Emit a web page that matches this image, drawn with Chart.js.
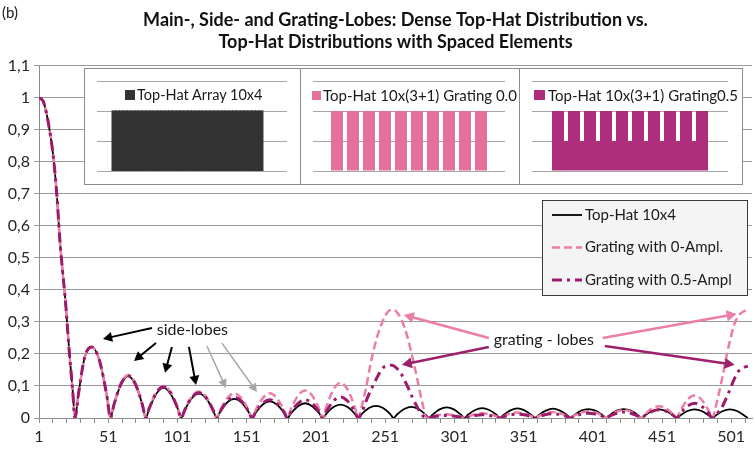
<!DOCTYPE html>
<html>
<head>
<meta charset="utf-8">
<script src="https://cdn.jsdelivr.net/npm/chart.js@4.4.1/dist/chart.umd.min.js"></script>
<style>
html,body{margin:0;padding:0;background:#fff;}
#wrap{position:relative;width:755px;height:449px;overflow:hidden;font-family:Lato,"Liberation Sans",sans-serif;color:#1a1a1a;}
#main{position:absolute;left:0;top:0;}
.inset{position:absolute;background:#fff;border:1px solid #8c8c8c;box-sizing:border-box;}
.inset canvas{position:absolute;left:0;top:0;}
.ilg{position:absolute;font-size:15px;line-height:18px;white-space:nowrap;color:#1a1a1a;}
.sw{position:absolute;}
#tag{position:absolute;left:2px;top:3px;font-size:15px;}
</style>
</head>
<body>
<div id="wrap">
  <canvas id="main" width="755" height="449"></canvas>
  <div id="tag">(b)</div>
  <div class="inset" style="left:84px;top:68px;width:217px;height:117px;"><canvas id="in1" width="215" height="115"></canvas></div>
  <div class="inset" style="left:300px;top:68px;width:220px;height:117px;"><canvas id="in2" width="218" height="115"></canvas></div>
  <div class="inset" style="left:519px;top:68px;width:224px;height:117px;"><canvas id="in3" width="222" height="115"></canvas></div>
  <div class="sw" style="left:125px;top:90px;width:10px;height:10px;background:#333333;"></div>
  <div class="ilg" style="left:137px;top:86px;font-size:14.5px;">Top-Hat Array 10x4</div>
  <div class="sw" style="left:312px;top:91px;width:9px;height:9px;background:#E4709C;"></div>
  <div class="ilg" style="left:323px;top:86px;">Top-Hat 10x(3+1) Grating 0.0</div>
  <div class="sw" style="left:534px;top:90px;width:11px;height:10px;background:#AE2E7C;"></div>
  <div class="ilg" style="left:548px;top:86px;">Top-Hat 10x(3+1) Grating0.5</div>
</div>
<script>
// ---------------- DATA ----------------
const titleLines = ['Main-, Side- and Grating-Lobes: Dense Top-Hat Distribution vs.', 'Top-Hat Distributions with Spaced Elements'];
const seriesNames = ['Top-Hat 10x4', 'Grating with 0-Ampl.', 'Grating with 0.5-Ampl'];

const xTickLabels = [1, 51, 101, 151, 201, 251, 301, 351, 401, 451, 501];
const yTickValues = [0, 0.1, 0.2, 0.3, 0.4, 0.5, 0.6, 0.7, 0.8, 0.9, 1, 1.1];
const yTickLabels = ['0', '0,1', '0,2', '0,3', '0,4', '0,5', '0,6', '0,7', '0,8', '0,9', '1', '1,1'];

const topHatX = [
  1,4,6.5,9,11.5,14,16,18,20,23,25.3,27.0,
  29.5,34.0,39.0,44.5,50.1,52.6,
  55.1,60.3,65.4,70.5,75.7,78.1,
  80.6,85.8,90.9,96.0,101.2,103.7,
  106.2,111.4,116.5,121.6,126.8,129.3,
  131.8,137.0,142.1,147.2,152.4,154.9,
  157.4,162.6,167.7,172.8,178.0,180.4,
  182.9,188.1,193.2,198.3,203.5,206.0,
  208.5,213.7,218.8,223.9,229.1,231.6,
  234.1,239.3,244.4,249.5,254.7,257.1,
  259.6,264.8,269.9,275.0,280.2,282.7,
  285.2,290.4,295.5,300.6,305.8,308.3,
  310.8,316.0,321.1,326.2,331.4,333.8,
  336.3,341.5,346.6,351.7,356.9,359.4,
  361.9,367.1,372.2,377.3,382.5,385.0,
  387.5,392.7,397.8,402.9,408.1,410.6,
  413.1,418.3,423.4,428.5,433.7,436.1,
  438.6,443.8,448.9,454.0,459.2,461.7,
  464.2,469.4,474.5,479.6,484.8,487.3,
  489.8,495.0,500.1,505.2,510.4,513.0
];
const topHatY = [
  1,0.99,0.95,0.89,0.81,0.69,0.56,0.46,0.37,0.2,0.087,0,
  0.075,0.19,0.222,0.182,0.067,0,
  0.041,0.106,0.131,0.106,0.041,0,
  0.029,0.076,0.094,0.076,0.029,0,
  0.024,0.062,0.076,0.062,0.024,0,
  0.019,0.049,0.060,0.049,0.019,0,
  0.016,0.042,0.052,0.042,0.016,0,
  0.014,0.037,0.046,0.037,0.014,0,
  0.013,0.034,0.042,0.034,0.013,0,
  0.012,0.031,0.038,0.031,0.012,0,
  0.011,0.028,0.035,0.028,0.011,0,
  0.010,0.027,0.033,0.027,0.010,0,
  0.010,0.025,0.031,0.025,0.010,0,
  0.009,0.024,0.030,0.024,0.009,0,
  0.009,0.023,0.029,0.023,0.009,0,
  0.009,0.023,0.028,0.023,0.009,0,
  0.009,0.023,0.028,0.023,0.009,0,
  0.008,0.022,0.027,0.022,0.008,0,
  0.008,0.022,0.027,0.022,0.008,0,
  0.008,0.022,0.027,0.022,0.008,0
];

const gratingX = [
  1,4,6.5,9,11.5,14,16,18,20,23,25.3,27.0,
  29.5,34.0,39.0,44.5,50.1,52.6,
  55.1,60.3,65.4,70.5,75.7,78.1,
  80.6,85.8,90.9,96.0,101.2,103.7,
  106.2,111.4,116.5,121.6,126.8,129.3,
  131.8,137.0,142.1,147.2,152.4,154.9,
  157.4,162.6,167.7,172.8,178.0,180.4,
  182.9,188.1,193.2,198.3,203.5,206.0,
  208.5,213.7,218.8,223.9,229.1,231.6,
  234,237,241,245,249,253,256,259,263,267,271,275,278,281,
  283.5,289,295,300.5,306,308.3,
  310.8,316.0,321.1,326.2,331.4,333.8,
  336.3,341.5,346.6,351.7,356.9,359.4,
  361.9,367.1,372.2,377.3,382.5,385.0,
  387.5,392.7,397.8,402.9,408.1,410.6,
  413.1,418.3,423.4,428.5,433.7,436.1,
  438.6,443.8,448.9,454.0,459.2,461.7,
  464.2,469.4,474.5,479.6,484.8,487.3,
  489.5,492,494.5,497,500,503,506,509.5,513
];
const grating0Y = [
  1,0.99,0.95,0.89,0.81,0.69,0.56,0.46,0.37,0.2,0.087,0,
  0.075,0.19,0.222,0.182,0.067,0,
  0.042,0.109,0.134,0.109,0.042,0,
  0.031,0.081,0.100,0.081,0.031,0,
  0.026,0.067,0.083,0.067,0.026,0,
  0.024,0.062,0.077,0.062,0.024,0,
  0.024,0.062,0.077,0.062,0.024,0,
  0.027,0.070,0.086,0.070,0.027,0,
  0.034,0.089,0.110,0.089,0.034,0,
  0.035,0.09,0.18,0.25,0.30,0.332,0.338,0.333,0.305,0.255,0.185,0.105,0.045,0,
  0.004,0.009,0.012,0.009,0.004,0,
  0.005,0.012,0.015,0.012,0.005,0,
  0.005,0.014,0.017,0.014,0.005,0,
  0.006,0.015,0.019,0.015,0.006,0,
  0.007,0.017,0.021,0.017,0.007,0,
  0.008,0.020,0.025,0.020,0.008,0,
  0.011,0.030,0.037,0.030,0.011,0,
  0.022,0.057,0.070,0.057,0.022,0,
  0.03,0.075,0.125,0.18,0.24,0.29,0.318,0.332,0.338
];
const grating05Y = [
  1,0.99,0.95,0.89,0.81,0.69,0.56,0.46,0.37,0.2,0.087,0,
  0.075,0.19,0.222,0.182,0.067,0,
  0.041,0.107,0.132,0.107,0.041,0,
  0.030,0.079,0.097,0.079,0.030,0,
  0.024,0.064,0.079,0.064,0.024,0,
  0.020,0.053,0.065,0.053,0.020,0,
  0.018,0.046,0.057,0.046,0.018,0,
  0.018,0.046,0.057,0.046,0.018,0,
  0.020,0.053,0.066,0.053,0.020,0,
  0.015,0.05,0.09,0.125,0.155,0.163,0.165,0.157,0.135,0.1,0.062,0.028,0.008,0,
  0.002,0.006,0.008,0.006,0.002,0,
  0.003,0.008,0.010,0.008,0.003,0,
  0.004,0.010,0.012,0.010,0.004,0,
  0.004,0.011,0.013,0.011,0.004,0,
  0.005,0.012,0.015,0.012,0.005,0,
  0.006,0.015,0.019,0.015,0.006,0,
  0.008,0.021,0.026,0.021,0.008,0,
  0.014,0.037,0.046,0.037,0.014,0,
  0.008,0.02,0.035,0.058,0.088,0.12,0.145,0.157,0.162
];

// inset element amplitudes (10 x 4 elements)
const insetDense = [1,1,1,1, 1,1,1,1, 1,1,1,1, 1,1,1,1, 1,1,1,1, 1,1,1,1, 1,1,1,1, 1,1,1,1, 1,1,1,1, 1,1,1,1];
const insetGrating0 = [1,1,1,0, 1,1,1,0, 1,1,1,0, 1,1,1,0, 1,1,1,0, 1,1,1,0, 1,1,1,0, 1,1,1,0, 1,1,1,0, 1,1,1];
const insetGrating05 = [1,1,1,0.5, 1,1,1,0.5, 1,1,1,0.5, 1,1,1,0.5, 1,1,1,0.5, 1,1,1,0.5, 1,1,1,0.5, 1,1,1,0.5, 1,1,1,0.5, 1,1,1];

// annotations (data coordinates)
const sideLobeLabel = {text:'side-lobes', x:111.8, y:0.275};
const gratingLobeLabel = {text:'grating - lobes', x:365.6, y:0.244};
const annotationArrows = [
  {from:[82.6,0.281], to:[47.2,0.247], color:'#000000', width:2},
  {from:[85.5,0.234], to:[69.6,0.178], color:'#000000', width:2},
  {from:[97.0,0.222], to:[92.0,0.141], color:'#000000', width:2},
  {from:[109.3,0.222], to:[114.4,0.103], color:'#000000', width:2},
  {from:[122.3,0.225], to:[136.0,0.094], color:'#a6a6a6', width:1.5},
  {from:[133.1,0.234], to:[158.4,0.081], color:'#a6a6a6', width:1.5},
  {from:[325.9,0.250], to:[264.5,0.322], color:'#EC7DA6', width:2.5},
  {from:[325.9,0.222], to:[263.1,0.166], color:'#9E1F6C', width:2.5},
  {from:[408.2,0.250], to:[504.9,0.325], color:'#EC7DA6', width:2.5},
  {from:[409.7,0.225], to:[503.5,0.166], color:'#9E1F6C', width:2.5}
];

// ---------------- STYLE ----------------
const FONT = 'Lato, "Liberation Sans", sans-serif';
const COL_BLACK = '#000000', COL_PINK = '#EC7DA6', COL_MAG = '#9C1B6B';
const toPts = (xs, ys) => xs.map((x, i) => ({x, y: ys[i]}));

function drawArrow(ctx, x1, y1, x2, y2, color, w) {
  const ang = Math.atan2(y2 - y1, x2 - x1);
  const hl = 6 + w * 1.6, hw = 3 + w * 1.0;
  const bx = x2 - Math.cos(ang) * hl, by = y2 - Math.sin(ang) * hl;
  ctx.strokeStyle = color; ctx.fillStyle = color; ctx.lineWidth = w; ctx.setLineDash([]);
  ctx.beginPath(); ctx.moveTo(x1, y1); ctx.lineTo(bx + Math.cos(ang) * 1, by + Math.sin(ang) * 1); ctx.stroke();
  ctx.beginPath();
  ctx.moveTo(x2, y2);
  ctx.lineTo(bx + Math.sin(ang) * hw, by - Math.cos(ang) * hw);
  ctx.lineTo(bx - Math.sin(ang) * hw, by + Math.cos(ang) * hw);
  ctx.closePath(); ctx.fill();
}

const annotationPlugin = {
  id: 'annot',
  afterDatasetsDraw(chart) {
    const {ctx, scales: {x, y}} = chart;
    ctx.save();
    annotationArrows.forEach(a => {
      drawArrow(ctx, x.getPixelForValue(a.from[0]), y.getPixelForValue(a.from[1]),
                x.getPixelForValue(a.to[0]), y.getPixelForValue(a.to[1]), a.color, a.width);
    });
    ctx.fillStyle = '#1a1a1a';
    ctx.font = '16px ' + FONT;
    ctx.textAlign = 'center'; ctx.textBaseline = 'middle';
    [sideLobeLabel, gratingLobeLabel].forEach(l => {
      ctx.fillText(l.text, x.getPixelForValue(l.x), y.getPixelForValue(l.y));
    });
    ctx.restore();
  }
};

const boxLegendPlugin = {
  id: 'boxLegend',
  afterDraw(chart) {
    const ctx = chart.ctx;
    const bx = 542, by = 200, bw = 205, bh = 95;
    ctx.save();
    ctx.fillStyle = '#f4f4f4';
    ctx.fillRect(bx, by, bw, bh);
    ctx.strokeStyle = '#3a3a3a'; ctx.lineWidth = 1;
    ctx.strokeRect(bx + 0.5, by + 0.5, bw, bh);
    chart.data.datasets.forEach((ds, i) => {
      const cy = by + 15 + i * 32.5;
      ctx.strokeStyle = ds.borderColor;
      ctx.lineWidth = ds.borderWidth;
      ctx.setLineDash(ds.borderDash || []);
      ctx.beginPath(); ctx.moveTo(bx + 10, cy); ctx.lineTo(bx + 40, cy); ctx.stroke();
      ctx.setLineDash([]);
      ctx.fillStyle = '#1a1a1a';
      ctx.font = '15px ' + FONT;
      ctx.textAlign = 'left'; ctx.textBaseline = 'middle';
      ctx.fillText(ds.label, bx + 43, cy);
    });
    ctx.restore();
  }
};

new Chart(document.getElementById('main'), {
  type: 'line',
  data: {
    datasets: [
      {label: seriesNames[0], data: toPts(topHatX, topHatY), borderColor: COL_BLACK, borderWidth: 1.8, order: 3},
      {label: seriesNames[1], data: toPts(gratingX, grating0Y), borderColor: COL_PINK, borderWidth: 2.5, borderDash: [8, 4], order: 2},
      {label: seriesNames[2], data: toPts(gratingX, grating05Y), borderColor: COL_MAG, borderWidth: 3, borderDash: [10, 5, 3, 5], order: 1}
    ]
  },
  options: {
    responsive: false, animation: false, devicePixelRatio: 1,
    layout: {padding: {left: 0, right: 3, top: 0, bottom: 0}},
    elements: {point: {radius: 0}, line: {cubicInterpolationMode: 'monotone', fill: false}},
    plugins: {
      legend: {display: false}, tooltip: {enabled: false},
      title: {
        display: true, text: titleLines, fullSize: false, color: '#111111',
        font: {family: FONT, size: 18, weight: 'bold', lineHeight: 1.245},
        padding: {top: 9, bottom: 12}
      }
    },
    scales: {
      x: {
        type: 'linear', min: 1, max: 516,
        afterBuildTicks(s) {
          const t = [];
          for (let v = xTickLabels[0]; v <= 511; v += 10) t.push({value: v});
          s.ticks = t;
        },
        afterFit(s) { s.height = 31; },
        ticks: {
          autoSkip: false, maxRotation: 0, padding: 4, color: '#262626',
          font: {family: FONT, size: 16},
          callback: v => xTickLabels.includes(v) ? String(v) : ''
        },
        grid: {drawOnChartArea: false, drawTicks: true, tickLength: 5, color: '#8c8c8c'},
        border: {color: '#8c8c8c'}
      },
      y: {
        min: 0, max: 1.1,
        afterBuildTicks(s) { s.ticks = yTickValues.map(v => ({value: v})); },
        afterFit(s) { s.width = 39; },
        ticks: {
          padding: 4, color: '#262626', font: {family: FONT, size: 16},
          callback: (v, i) => yTickLabels[i]
        },
        grid: {color: '#9a9a9a', tickLength: 5, drawTicks: true},
        border: {color: '#8c8c8c'}
      }
    }
  },
  plugins: [annotationPlugin, boxLegendPlugin]
});

function makeInset(id, values, color, xmin, xmax, pad, inflate) {
  new Chart(document.getElementById(id), {
    type: 'bar',
    data: {datasets: [{data: values.map((v, i) => ({x: i + 1, y: v})), backgroundColor: color,
      borderWidth: 0, barPercentage: 1, categoryPercentage: 1, inflateAmount: inflate}]},
    options: {
      responsive: false, animation: false, devicePixelRatio: 1,
      layout: {padding: pad},
      plugins: {legend: {display: false}, tooltip: {enabled: false}, title: {display: false}},
      scales: {
        x: {type: 'linear', min: xmin, max: xmax, offset: false, display: false},
        y: {min: 0, max: 1.5, ticks: {display: false, stepSize: 0.5},
            grid: {color: '#a6a6a6', drawTicks: false}, border: {display: false},
            afterFit(s) { s.width = 0; }}
      }
    }
  });
}
makeInset('in1', insetDense, '#333333', -3.5, 46.9, {left: 12, right: 13, top: 12, bottom: 13}, 0.6);
makeInset('in2', insetGrating0, '#E4709C', -4, 44, {left: 12, right: 14, top: 12, bottom: 13}, 0);
makeInset('in3', insetGrating05, '#AE2E7C', -4.5, 44.5, {left: 12, right: 14, top: 12, bottom: 13}, 0);
</script>
</body>
</html>
